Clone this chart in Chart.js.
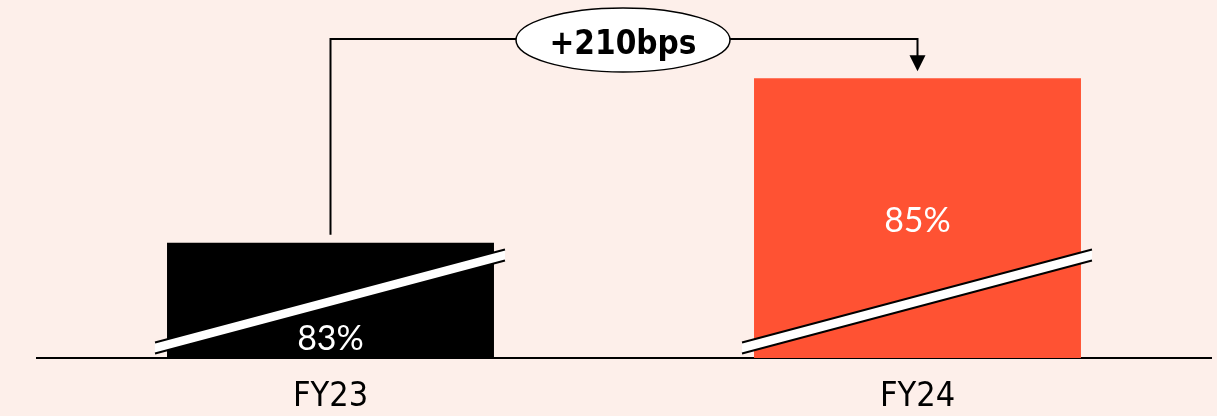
<!DOCTYPE html>
<html lang="en">
<head>
<meta charset="UTF-8" />
<title>Margin FY23 vs FY24</title>
<script src="https://cdn.jsdelivr.net/npm/chart.js"></script>
<style>
  html, body { margin: 0; padding: 0; background: #fdefea; }
  #wrap { width: 1217px; height: 416px; position: relative; }
</style>
</head>
<body>
<div id="wrap"><canvas id="grafico"></canvas></div>
<script>
// data
const categorias = ["FY23", "FY24"];
const valores = [83, 85];
const rotulos = ["83%", "85%"];
const cores = ["#000000", "#ff5233"];
const variacao = "+210bps";

const larguraBarra = 0.557;

// break stripes, value labels and the change bracket, all drawn on top
const extras = {
  id: "extras",
  afterDraw(chart) {
    const ctx = chart.ctx;
    const sx = chart.scales.x, sy = chart.scales.y;
    const base = chart.chartArea.bottom;
    const largura = (sx.width / categorias.length) * larguraBarra;
    const barras = valores.map((v, i) => ({
      x: sx.getPixelForValue(i),
      y: sy.getPixelForValue(v)
    }));

    ctx.save();
    // diagonal white break across the bottom of each bar
    barras.forEach(b => {
      const x0 = b.x - largura / 2 - 12;
      const x1 = b.x + largura / 2 + 11;
      const y0 = base - 10;
      const y1 = base - 103;
      const h = 5.5;
      ctx.beginPath();
      ctx.moveTo(x0, y0 - h);
      ctx.lineTo(x1, y1 - h);
      ctx.lineTo(x1, y1 + h);
      ctx.lineTo(x0, y0 + h);
      ctx.closePath();
      ctx.fillStyle = "#ffffff";
      ctx.fill();
      ctx.strokeStyle = "#000000";
      ctx.lineWidth = 2;
      ctx.beginPath();
      ctx.moveTo(x0, y0 - h); ctx.lineTo(x1, y1 - h);
      ctx.moveTo(x0, y0 + h); ctx.lineTo(x1, y1 + h);
      ctx.stroke();
    });

    // value labels
    ctx.fillStyle = "#ffffff";
    ctx.font = "normal 34px Lato";
    ctx.textAlign = "center";
    ctx.textBaseline = "alphabetic";
    barras.forEach((b, i) => {
      const y = i === 0 ? base - 8 : (b.y + base) / 2 + 14;
      ctx.fillText(rotulos[i], b.x, y);
    });

    // bracket FY23 -> FY24
    const a = barras[0], c = barras[1];
    const yTopo = 39;
    ctx.strokeStyle = "#000000";
    ctx.lineWidth = 2;
    ctx.beginPath();
    ctx.moveTo(a.x, a.y - 8);
    ctx.lineTo(a.x, yTopo);
    ctx.lineTo(c.x, yTopo);
    ctx.lineTo(c.x, c.y - 22);
    ctx.stroke();
    ctx.fillStyle = "#000000";
    ctx.beginPath();
    ctx.moveTo(c.x - 8, c.y - 23);
    ctx.lineTo(c.x + 8, c.y - 23);
    ctx.lineTo(c.x, c.y - 7);
    ctx.closePath();
    ctx.fill();

    const cx = 623;
    ctx.beginPath();
    ctx.ellipse(cx, yTopo + 1, 107, 32, 0, 0, Math.PI * 2);
    ctx.fillStyle = "#ffffff";
    ctx.fill();
    ctx.lineWidth = 1.5;
    ctx.stroke();
    ctx.fillStyle = "#000000";
    ctx.font = "bold 33px 'DejaVu Sans Condensed'";
    ctx.fillText(variacao, cx, 54);
    ctx.restore();
  }
};

new Chart(document.getElementById("grafico"), {
  type: "bar",
  data: {
    labels: categorias,
    datasets: [{
      data: valores,
      backgroundColor: cores,
      categoryPercentage: 1,
      barPercentage: larguraBarra
    }]
  },
  options: {
    responsive: true,
    maintainAspectRatio: false,
    animation: false,
    layout: { padding: { left: 37, right: 6, top: 0, bottom: 0 } },
    plugins: { legend: { display: false }, tooltip: { enabled: false } },
    scales: {
      x: {
        grid: { display: false, drawTicks: false },
        border: { display: true, color: "#000000", width: 2 },
        afterFit(scale) { scale.height = 58; },
        ticks: {
          color: "#000000",
          padding: 19,
          font: { family: "'DejaVu Sans Condensed'", size: 34 }
        }
      },
      y: {
        display: false,
        min: 81.6,
        max: 85.95
      }
    }
  },
  plugins: [extras]
});
</script>
</body>
</html>
